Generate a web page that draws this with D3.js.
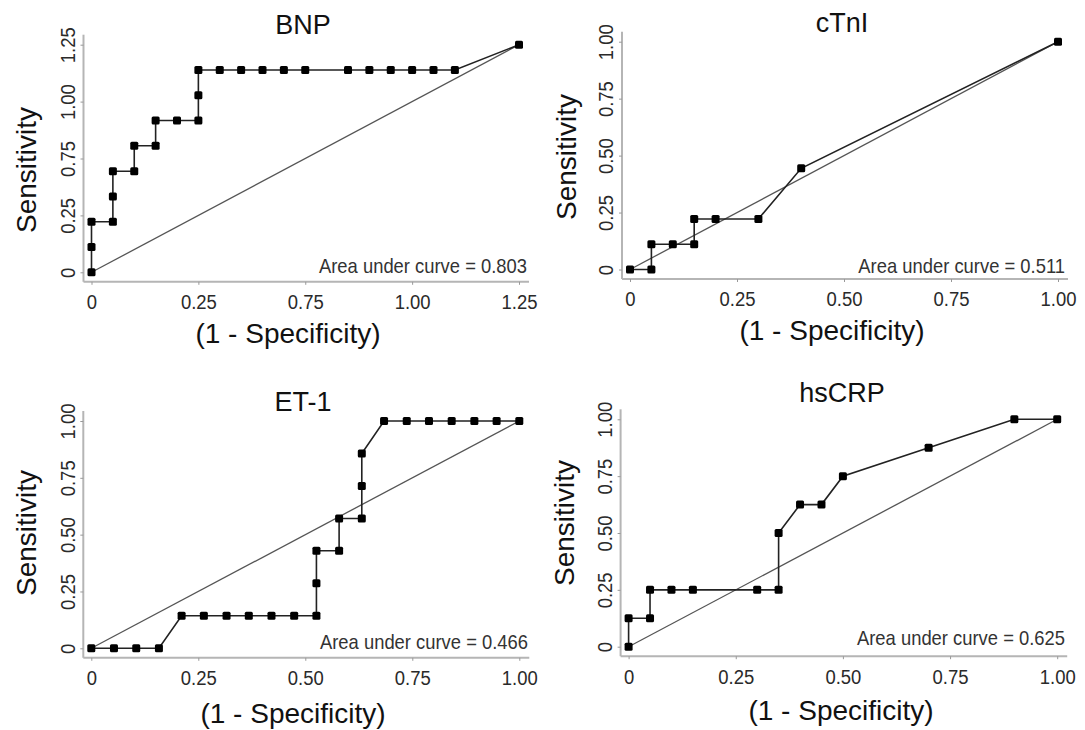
<!DOCTYPE html>
<html>
<head>
<meta charset="utf-8">
<script src="https://cdnjs.cloudflare.com/ajax/libs/d3/7.8.5/d3.min.js"></script>
<style>
  body { margin: 0; background: #fff; }
  svg { display: block; font-family: "Liberation Sans", Arial, Helvetica, sans-serif; }
</style>
</head>
<body>
<div id="chart"></div>
<script>

// panel names and AUC values
var titles = ["BNP", "cTnI", "ET-1", "hsCRP"];
var aucValues = ["0.803", "0.511", "0.466", "0.625"];

// tick values and their printed labels (BNP has odd labels in the original)
var tickValues = [0, 0.25, 0.5, 0.75, 1];
var bnpTickLabels = ["0", "0.25", "0.75", "1.00", "1.25"];
var stdTickLabels = ["0", "0.25", "0.50", "0.75", "1.00"];

// ROC points: 1 - specificity (fpr) and sensitivity (tpr)
var bnpFpr = [0, 0, 0, 0.05, 0.05, 0.05, 0.10, 0.10, 0.15, 0.15, 0.20, 0.25, 0.25,
              0.25, 0.30, 0.35, 0.40, 0.45, 0.50, 0.60, 0.65, 0.70, 0.75, 0.80, 0.85, 1.00];
var bnpTpr = [0, 0.111, 0.222, 0.222, 0.333, 0.444, 0.444, 0.556, 0.556, 0.667, 0.667, 0.667, 0.778,
              0.889, 0.889, 0.889, 0.889, 0.889, 0.889, 0.889, 0.889, 0.889, 0.889, 0.889, 0.889, 1.00];

var ctniFpr = [0, 0.05, 0.05, 0.10, 0.15, 0.15, 0.20, 0.30, 0.40, 1.00];
var ctniTpr = [0, 0, 0.111, 0.111, 0.111, 0.222, 0.222, 0.222, 0.444, 1.00];

var et1Fpr = [0, 0.053, 0.105, 0.158, 0.211, 0.263, 0.316, 0.368, 0.421, 0.474, 0.526, 0.526, 0.526,
              0.579, 0.579, 0.632, 0.632, 0.632, 0.684, 0.737, 0.789, 0.842, 0.895, 0.947, 1.00];
var et1Tpr = [0, 0, 0, 0, 0.143, 0.143, 0.143, 0.143, 0.143, 0.143, 0.143, 0.286, 0.429,
              0.429, 0.571, 0.571, 0.714, 0.857, 1.00, 1.00, 1.00, 1.00, 1.00, 1.00, 1.00];

var hscrpFpr = [0, 0, 0.05, 0.05, 0.10, 0.15, 0.30, 0.35, 0.35, 0.40, 0.45, 0.50, 0.70, 0.90, 1.00];
var hscrpTpr = [0, 0.125, 0.125, 0.25, 0.25, 0.25, 0.25, 0.25, 0.50, 0.625, 0.625, 0.75, 0.875, 1.00, 1.00];

// chance line
var diagX = [0, 1];
var diagY = [0, 1];

var width = 1085, height = 730;

// where each panel sits on the page
var layout = [
  {x0: 91.5, x1: 519, y0: 272.3, y1: 44.7, titleX: 303, titleY: 25,
   ylabX: 26, ylabY: 170, xlabX: 288, xlabY: 333, aucX: 527, aucY: 266},
  {x0: 630, x1: 1058, y0: 269.5, y1: 41.7, titleX: 842, titleY: 23,
   ylabX: 566, ylabY: 157, xlabX: 832, xlabY: 330, aucX: 1065, aucY: 266},
  {x0: 91.3, x1: 519.3, y0: 648.3, y1: 421, titleX: 303, titleY: 402,
   ylabX: 26, ylabY: 533, xlabX: 293, xlabY: 713, aucX: 528, aucY: 642},
  {x0: 628.6, x1: 1057.2, y0: 646.7, y1: 419.3, titleX: 842, titleY: 393,
   ylabX: 564, ylabY: 523, xlabX: 841, xlabY: 710, aucX: 1065, aucY: 638}
];

var panels = [
  {fpr: bnpFpr, tpr: bnpTpr, ticks: bnpTickLabels},
  {fpr: ctniFpr, tpr: ctniTpr, ticks: stdTickLabels},
  {fpr: et1Fpr, tpr: et1Tpr, ticks: stdTickLabels},
  {fpr: hscrpFpr, tpr: hscrpTpr, ticks: stdTickLabels}
];

var svg = d3.select("#chart").append("svg")
  .attr("width", width)
  .attr("height", height);

panels.forEach(function(p, i) {
  var L = layout[i];

  var x = d3.scaleLinear().domain([0, 1]).range([L.x0, L.x1]);
  var y = d3.scaleLinear().domain([0, 1]).range([L.y0, L.y1]);

  var axisX = L.x0 - 8, axisY = L.y0 + 9.5;
  var g = svg.append("g").attr("class", "panel");

  // L shaped frame
  g.append("line")
    .attr("x1", axisX).attr("x2", axisX)
    .attr("y1", L.y1 - 10).attr("y2", axisY)
    .style("stroke", "#b5b5b5").style("stroke-width", 2);
  g.append("line")
    .attr("x1", axisX).attr("x2", L.x1 + 10)
    .attr("y1", axisY).attr("y2", axisY)
    .style("stroke", "#b5b5b5").style("stroke-width", 2);

  // x axis (labels a bit narrow, like the original)
  var xa = g.append("g")
    .attr("transform", "translate(0," + axisY + ")")
    .call(d3.axisBottom(x).tickValues(tickValues)
      .tickFormat(function(d, k) { return p.ticks[k]; })
      .tickSize(3).tickPadding(6));
  xa.select(".domain").remove();
  xa.selectAll("line").style("stroke", "#999");
  xa.selectAll("text")
    .attr("y", 20).attr("dy", "0.35em")
    .attr("transform", "scale(0.88,1)")
    .style("font-size", "21px").style("fill", "#2a2a2a")
    .style("font-family", "'Liberation Sans', Arial, sans-serif");

  // y axis, labels turned like base R
  var ya = g.append("g")
    .attr("transform", "translate(" + axisX + ",0)")
    .call(d3.axisLeft(y).tickValues(tickValues)
      .tickFormat(function(d, k) { return p.ticks[k]; })
      .tickSize(3));
  ya.select(".domain").remove();
  ya.selectAll("line").style("stroke", "#999");
  ya.selectAll("text")
    .attr("x", 0).attr("y", -16).attr("dy", "0.35em")
    .attr("transform", "rotate(-90) scale(0.88,1)")
    .style("text-anchor", "middle")
    .style("font-size", "21px").style("fill", "#2a2a2a")
    .style("font-family", "'Liberation Sans', Arial, sans-serif");

  // chance diagonal
  var line = d3.line()
    .x(function(d) { return x(d[0]); })
    .y(function(d) { return y(d[1]); });

  g.append("path")
    .datum(d3.zip(diagX, diagY))
    .attr("d", line)
    .style("fill", "none")
    .style("stroke", "#555")
    .style("stroke-width", 1.3);

  // ROC curve
  var pts = d3.zip(p.fpr, p.tpr);
  g.append("path")
    .datum(pts)
    .attr("d", line)
    .style("fill", "none")
    .style("stroke", "#222")
    .style("stroke-width", 1.6);

  g.selectAll("rect.pt")
    .data(pts)
    .enter().append("rect")
      .attr("class", "pt")
      .attr("x", function(d) { return x(d[0]) - 4; })
      .attr("y", function(d) { return y(d[1]) - 4; })
      .attr("width", 8).attr("height", 8)
      .attr("rx", 1.5)
      .style("fill", "#000");

  // texts
  g.append("text")
    .attr("x", L.titleX).attr("y", L.titleY).attr("dy", "0.35em")
    .style("text-anchor", "middle")
    .style("font-size", "27px").style("fill", "#111")
    .text(titles[i]);

  g.append("text")
    .attr("transform", "translate(" + L.ylabX + "," + L.ylabY + ") rotate(-90)")
    .attr("dy", "0.35em")
    .style("text-anchor", "middle")
    .style("font-size", "28px").style("fill", "#111")
    .text("Sensitivity");

  g.append("text")
    .attr("x", L.xlabX).attr("y", L.xlabY).attr("dy", "0.35em")
    .style("text-anchor", "middle")
    .style("font-size", "28px").style("fill", "#111")
    .text("(1 - Specificity)");

  g.append("text")
    .attr("transform", "translate(" + L.aucX + "," + L.aucY + ") scale(0.92,1)")
    .attr("dy", "0.35em")
    .style("text-anchor", "end")
    .style("font-size", "20px").style("fill", "#333")
    .text("Area under curve = " + aucValues[i]);
});

</script>
</body>
</html>
